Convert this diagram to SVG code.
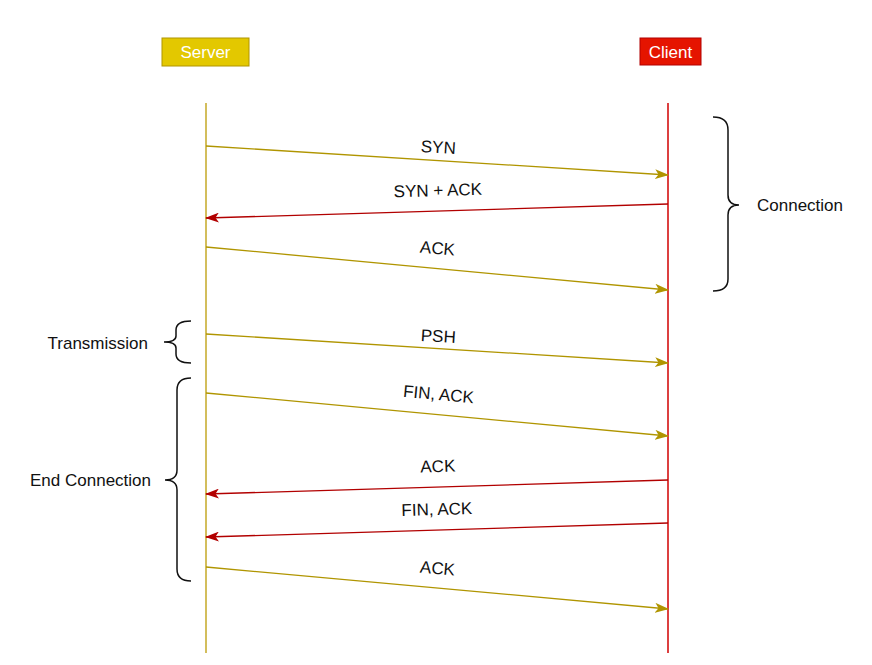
<svg xmlns="http://www.w3.org/2000/svg" width="872" height="665" viewBox="0 0 872 665">
<style>
text{font-family:"Liberation Sans",Arial,sans-serif;font-size:17px;fill:#111}
.hdr{fill:#fff;text-anchor:middle}
.lbl{text-anchor:middle}
.gold{stroke:#B09500;stroke-width:1.3;fill:none}
.red{stroke:#B20000;stroke-width:1.3;fill:none}
.brace{stroke:#111;stroke-width:1.5;fill:none}
</style>
<defs>
<marker id="ag" markerWidth="14" markerHeight="10" refX="13" refY="5" orient="auto" markerUnits="userSpaceOnUse">
<path d="M0,0 L14,5 L0,10 L3.5,5 z" fill="#B09500"/>
</marker>
<marker id="ar" markerWidth="14" markerHeight="10" refX="13" refY="5" orient="auto" markerUnits="userSpaceOnUse">
<path d="M0,0 L14,5 L0,10 L3.5,5 z" fill="#B20000"/>
</marker>
</defs>
<g id="server">
<rect x="162" y="38" width="87" height="28" fill="#E3C800" stroke="#B09500"/>
<text class="hdr" x="205.5" y="58">Server</text>
</g>
<g id="client">
<rect x="640" y="38" width="61" height="27" fill="#E51400" stroke="#B20000"/>
<text class="hdr" x="670.5" y="58">Client</text>
</g>
<g id="lifelines">
<line x1="206" y1="103" x2="206" y2="653" stroke="#C4A826" stroke-width="1.5"/>
<line x1="668" y1="103" x2="668" y2="653" stroke="#D00000" stroke-width="1.5"/>
</g>
<g id="connectors">
<line class="gold" x1="206" y1="146" x2="668" y2="175" marker-end="url(#ag)"/>
<line class="red" x1="668" y1="204" x2="206" y2="218" marker-end="url(#ar)"/>
<line class="gold" x1="206" y1="247" x2="668" y2="290" marker-end="url(#ag)"/>
<line class="gold" x1="206" y1="334" x2="668" y2="363" marker-end="url(#ag)"/>
<line class="gold" x1="206" y1="393" x2="668" y2="436" marker-end="url(#ag)"/>
<line class="red" x1="668" y1="480" x2="206" y2="494" marker-end="url(#ar)"/>
<line class="red" x1="668" y1="523" x2="206" y2="537" marker-end="url(#ar)"/>
<line class="gold" x1="206" y1="567" x2="668" y2="609" marker-end="url(#ag)"/>
<text class="lbl" x="438" y="153" transform="rotate(3.6 438 153)">SYN</text>
<text class="lbl" x="438" y="196" transform="rotate(-1.7 438 196)">SYN + ACK</text>
<text class="lbl" x="437" y="254" transform="rotate(5.3 437 254)">ACK</text>
<text class="lbl" x="438" y="342" transform="rotate(3.6 438 342)">PSH</text>
<text class="lbl" x="438" y="400" transform="rotate(5.3 438 400)">FIN, ACK</text>
<text class="lbl" x="438" y="472" transform="rotate(-1.7 438 472)">ACK</text>
<text class="lbl" x="437" y="515" transform="rotate(-1.7 437 515)">FIN, ACK</text>
<text class="lbl" x="437" y="574" transform="rotate(5.3 437 574)">ACK</text>
</g>
<g id="connection">
<path class="brace" d="M713,117 Q728,117 728,130 L728,195 Q728,205 739,205 Q728,205 728,215 L728,279 Q728,291 713,291"/>
<text x="757" y="211">Connection</text>
</g>
<g id="transmission">
<path class="brace" d="M191,321 Q176,321 176,330 L176,336 Q176,342 164,342 Q176,342 176,348 L176,354 Q176,363 191,363"/>
<text x="148" y="349" text-anchor="end">Transmission</text>
</g>
<g id="end-connection">
<path class="brace" d="M191,378 Q177,378 177,390 L177,470 Q177,480 165,480 Q177,480 177,490 L177,569 Q177,581 191,581"/>
<text x="151" y="486" text-anchor="end">End Connection</text>
</g>
</svg>
